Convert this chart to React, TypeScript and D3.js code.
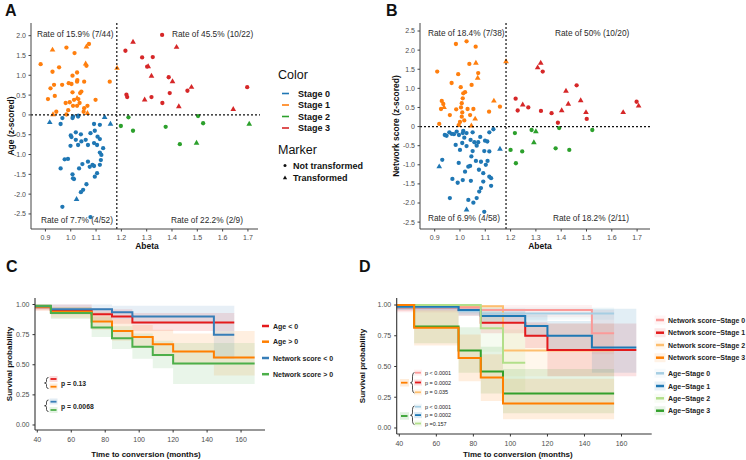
import React from "react";
import * as d3 from "d3";

const FONT = "'Liberation Sans', Arial, Helvetica, sans-serif";

// ---------- Scatter panels (A, B) ----------
const stageNames = ["Stage 0", "Stage 1", "Stage 2", "Stage 3"];
const stageColors = ["#1f77b4", "#ff7f0e", "#2ca02c", "#d62728"];
const markerNames = ["Not transformed", "Transformed"];
const abetaTicks = [0.9, 1.0, 1.1, 1.2, 1.3, 1.4, 1.5, 1.6, 1.7];
const aYTicks = [2, 1.5, 1, 0.5, 0, -0.5, -1, -1.5, -2, -2.5];
const bYTicks = [2.5, 2, 1.5, 1, 0.5, 0, -0.5, -1, -1.5, -2, -2.5];
const abetaCut = 1.182;
const aRates = ["Rate of 15.9% (7/44)", "Rate of 45.5% (10/22)", "Rate of 7.7% (4/52)", "Rate of 22.2% (2/9)"];
const bRates = ["Rate of 18.4% (7/38)", "Rate of 50% (10/20)", "Rate of 6.9% (4/58)", "Rate of 18.2% (2/11)"];

type Pt = [number, number, number]; // abeta, z-score, transformed(1)

const aStage0: Pt[] = [
  [0.917, -0.19, 1], [0.96, -0.23, 0], [0.967, -0.08, 0], [1.009, -0.04, 0], [1.007, -0.08, 0], [1.029, -0.04, 0],
  [1.134, -0.06, 1], [1.157, -0.23, 1], [1.092, -0.23, 0], [1.115, -0.25, 0], [1.0, -0.52, 0], [1.003, -0.56, 0],
  [1.02, -0.44, 0], [1.04, -0.49, 0], [0.999, -0.78, 0], [1.02, -0.63, 0], [1.029, -0.76, 0], [1.042, -0.67, 0],
  [1.059, -0.63, 0], [1.068, -0.76, 0], [1.078, -0.46, 0], [1.095, -0.4, 0], [1.106, -0.55, 0], [1.115, -0.61, 0],
  [1.092, -0.71, 0], [1.104, -0.76, 0], [1.128, -0.84, 0], [1.115, -0.95, 0], [1.121, -1.01, 0], [0.976, -1.12, 0],
  [0.989, -1.11, 0], [0.96, -1.35, 0], [1.046, -1.24, 0], [1.068, -1.18, 0], [1.086, -1.26, 0], [1.075, -1.31, 0],
  [1.092, -1.29, 0], [1.115, -1.26, 0], [1.119, -1.14, 0], [1.033, -1.35, 0], [1.007, -1.5, 0], [1.009, -1.6, 0],
  [1.013, -1.62, 0], [1.104, -1.47, 0], [1.095, -1.56, 0], [1.062, -1.75, 0], [1.049, -1.89, 0], [1.04, -1.95, 0],
  [1.023, -2.13, 1], [0.967, -2.32, 0], [1.078, -2.58, 0], [1.03, -0.02, 0],
];
const aStage1: Pt[] = [
  [0.881, 1.28, 0], [0.928, 1.64, 1], [0.983, 1.7, 0], [1.015, 1.56, 0], [1.062, 1.72, 1], [1.072, 1.79, 0],
  [1.059, 1.29, 1], [1.062, 1.24, 0], [0.928, 1.09, 0], [0.954, 1.2, 0], [1.007, 0.99, 0], [1.025, 1.07, 0],
  [1.026, 0.88, 0], [1.025, 0.84, 0], [1.053, 0.84, 0], [0.966, 0.76, 0], [0.992, 0.8, 0], [1.003, 0.78, 0],
  [0.934, 0.76, 0], [0.92, 0.67, 0], [0.937, 0.48, 0], [0.91, 0.4, 0], [1.007, 0.57, 0], [1.042, 0.59, 0],
  [1.037, 0.55, 0], [1.03, 0.4, 0], [1.025, 0.42, 1], [0.98, 0.3, 0], [0.996, 0.32, 0], [1.013, 0.38, 0],
  [1.009, 0.23, 0], [1.025, 0.23, 0], [1.053, 0.17, 0], [1.066, 0.23, 0], [1.051, 0.08, 0], [0.943, 0.08, 0],
  [0.93, 0.01, 1], [1.098, 0.38, 0], [1.154, 0.84, 0], [1.183, 1.18, 1], [1.066, 0.04, 1], [0.983, 0.01, 0],
  [0.99, 0.12, 0], [1.035, 0.3, 0],
];
const aStage2: Pt[] = [
  [1.198, -0.28, 0], [1.228, -0.06, 0], [1.246, -0.4, 0], [1.375, -0.3, 0], [1.431, -0.74, 0], [1.497, -0.71, 1],
  [1.503, -0.03, 0], [1.523, -0.21, 0], [1.705, -0.23, 1],
];
const aStage3: Pt[] = [
  [1.246, 1.84, 1], [1.361, 2.02, 0], [1.216, 1.62, 0], [1.418, 1.71, 1], [1.282, 1.45, 0], [1.324, 1.46, 0],
  [1.302, 1.22, 0], [1.306, 1.22, 1], [1.319, 0.98, 1], [1.387, 0.95, 0], [1.402, 0.84, 1], [1.22, 0.51, 0],
  [1.223, 0.45, 0], [1.292, 0.38, 1], [1.319, 0.45, 0], [1.391, 0.55, 0], [1.461, 0.61, 0], [1.477, 0.7, 1],
  [1.362, 0.3, 0], [1.427, 0.21, 1], [1.642, 0.14, 1], [1.697, 0.7, 0],
];

const bStage0: Pt[] = [
  [0.958, -0.15, 0], [0.967, -0.19, 0], [0.976, -0.2, 0], [0.987, -0.13, 0], [0.947, -0.24, 0], [0.996, -0.22, 0],
  [1.013, -0.11, 0], [1.011, -0.17, 0], [1.026, -0.17, 0], [1.05, -0.15, 0], [1.116, -0.15, 0], [1.132, -0.07, 0],
  [1.017, -0.29, 0], [1.042, -0.35, 0], [1.057, -0.41, 0], [1.072, -0.41, 0], [1.099, -0.37, 0], [1.108, -0.39, 0],
  [0.983, -0.48, 0], [1.009, -0.43, 0], [1.026, -0.51, 0], [1.066, -0.5, 0], [1.05, -0.64, 0], [1.0, -0.61, 0],
  [1.096, -0.64, 0], [1.116, -0.65, 0], [1.158, -0.59, 1], [0.93, -0.87, 0], [0.918, -1.05, 1], [1.04, -1.03, 0],
  [1.033, -1.05, 0], [1.063, -0.9, 0], [1.083, -0.92, 0], [1.109, -0.9, 0], [1.102, -1.0, 0], [1.075, -1.13, 0],
  [1.02, -1.18, 0], [1.092, -1.22, 0], [1.116, -1.31, 0], [1.123, -1.35, 0], [0.97, -1.37, 0], [1.011, -1.4, 0],
  [1.043, -1.42, 0], [1.092, -1.44, 0], [1.123, -1.55, 0], [1.083, -1.61, 0], [1.076, -1.7, 0], [1.066, -1.87, 0],
  [0.96, -1.87, 0], [1.053, -1.99, 0], [1.026, -2.18, 1], [1.096, -2.23, 0], [0.991, -1.47, 0], [1.033, -1.92, 0],
  [0.94, -0.22, 0], [1.08, -0.27, 0], [1.045, -0.78, 0], [0.995, -0.95, 0],
];
const bStage1: Pt[] = [
  [0.984, 2.16, 0], [1.026, 2.23, 0], [1.062, 2.09, 0], [0.91, 1.44, 0], [0.993, 1.37, 0], [1.037, 1.64, 0],
  [1.063, 1.66, 1], [1.072, 1.4, 0], [1.07, 1.27, 1], [0.967, 1.14, 0], [1.046, 1.09, 0], [1.003, 1.03, 0],
  [1.013, 0.87, 0], [1.011, 0.74, 0], [1.007, 0.61, 0], [0.928, 0.67, 0], [0.934, 0.59, 0], [0.937, 0.5, 1],
  [0.925, 0.46, 0], [1.004, 0.5, 0], [1.03, 0.46, 0], [1.053, 0.46, 0], [1.009, 0.37, 0], [1.007, 0.26, 0],
  [1.0, 0.12, 0], [1.017, 0.16, 0], [0.918, 0.07, 0], [1.115, 0.39, 0], [1.134, 0.67, 1], [1.158, 0.52, 0],
  [1.182, 1.7, 1], [1.02, 0.9, 0], [0.985, 0.45, 0], [1.04, 0.3, 0], [1.045, 0.02, 1], [0.995, 0.04, 0],
  [1.06, 0.2, 1], [0.96, 0.3, 0],
];
const bStage2: Pt[] = [
  [1.217, -0.17, 0], [1.2, -0.61, 0], [1.221, -0.96, 0], [1.246, -0.65, 0], [1.283, -0.09, 0], [1.3, -0.13, 1],
  [1.292, -0.42, 1], [1.378, -0.57, 0], [1.392, -0.04, 0], [1.432, -0.61, 0], [1.523, -0.09, 0],
];
const bStage3: Pt[] = [
  [1.307, 1.54, 1], [1.319, 1.66, 1], [1.327, 1.44, 0], [1.22, 0.73, 0], [1.228, 0.42, 0], [1.248, 0.57, 1],
  [1.32, 0.41, 0], [1.362, 0.35, 0], [1.387, 0.1, 0], [1.402, 0.42, 1], [1.419, 0.93, 1], [1.428, 0.59, 1],
  [1.461, 1.08, 0], [1.477, 0.68, 1], [1.498, 0.37, 1], [1.501, 0.2, 0], [1.645, 0.37, 1], [1.698, 0.65, 0],
  [1.706, 0.54, 1], [1.27, 0.5, 0],
];

// ---------- Survival panels (C, D) ----------
type Row = [number, number, number, number]; // time, survival, lower, upper
const monthTicks = [40, 60, 80, 100, 120, 140, 160];
const survTicks = [0, 0.25, 0.5, 0.75, 1];

const cAgeBelow: Row[] = [[38.7, 0.977, 0.95, 1], [48, 0.955, 0.92, 1], [72, 0.92, 0.87, 0.97], [84, 0.9, 0.84, 0.96], [96, 0.85, 0.78, 0.93], [156, 0.85, 0.78, 0.93]];
const cAgeAbove: Row[] = [[38.7, 0.98, 0.95, 1], [48, 0.94, 0.89, 0.98], [72, 0.86, 0.79, 0.94], [84, 0.78, 0.7, 0.88], [96, 0.73, 0.64, 0.83], [108, 0.67, 0.57, 0.79], [120, 0.61, 0.5, 0.76], [144, 0.56, 0.41, 0.78], [168, 0.56, 0.41, 0.78]];
const cNetBelow: Row[] = [[38.7, 0.985, 0.96, 1], [48, 0.96, 0.92, 1], [84, 0.935, 0.88, 0.99], [96, 0.9, 0.84, 0.99], [144, 0.75, 0.55, 0.99], [156, 0.75, 0.55, 0.99]];
const cNetAbove: Row[] = [[38.7, 0.99, 0.97, 1], [48, 0.93, 0.88, 0.98], [72, 0.81, 0.73, 0.9], [84, 0.72, 0.63, 0.82], [96, 0.65, 0.55, 0.76], [108, 0.58, 0.47, 0.7], [120, 0.51, 0.34, 0.68], [168, 0.51, 0.34, 0.68]];
const cLabels = ["Age < 0", "Age > 0", "Network score < 0", "Network score > 0"];
const cColors = ["#e41a1c", "#ff7f00", "#377eb8", "#4daf4a"];
const cPValues = ["p = 0.13", "p = 0.0068"];

const dNs0: Row[] = [[38.7, 0.98, 0.94, 1], [84, 0.96, 0.9, 1], [144, 0.77, 0.6, 0.96], [156, 0.77, 0.6, 0.96]];
const dNs1: Row[] = [[38.7, 0.98, 0.95, 1], [72, 0.96, 0.91, 1], [84, 0.855, 0.77, 0.94], [108, 0.75, 0.65, 0.86], [120, 0.635, 0.42, 0.85], [168, 0.635, 0.42, 0.85]];
const dNs2: Row[] = [[38.7, 0.99, 0.97, 1], [96, 0.63, 0.42, 0.85], [156, 0.63, 0.42, 0.85]];
const dNs3: Row[] = [[38.7, 1, 1, 1], [48, 0.815, 0.67, 0.95], [72, 0.57, 0.38, 0.76], [84, 0.41, 0.22, 0.6], [96, 0.2, 0.07, 0.4], [156, 0.2, 0.07, 0.4]];
const dAge0: Row[] = [[38.7, 0.98, 0.96, 1], [72, 0.95, 0.91, 0.99], [84, 0.93, 0.88, 0.98], [156, 0.93, 0.88, 0.98]];
const dAge1: Row[] = [[38.7, 0.985, 0.96, 1], [72, 0.96, 0.92, 1], [84, 0.91, 0.85, 0.97], [108, 0.83, 0.74, 0.92], [120, 0.75, 0.64, 0.87], [144, 0.655, 0.45, 0.97], [168, 0.655, 0.45, 0.97]];
const dAge2: Row[] = [[38.7, 1, 1, 1], [84, 0.81, 0.62, 0.98], [96, 0.53, 0.3, 0.8], [108, 0.53, 0.3, 0.8]];
const dAge3: Row[] = [[38.7, 1, 1, 1], [48, 0.825, 0.69, 0.96], [72, 0.63, 0.45, 0.82], [84, 0.46, 0.28, 0.66], [96, 0.28, 0.12, 0.48], [156, 0.28, 0.12, 0.48]];
const dLabels = [
  "Network score\u2212Stage 0", "Network score\u2212Stage 1", "Network score\u2212Stage 2", "Network score\u2212Stage 3",
  "Age\u2212Stage 0", "Age\u2212Stage 1", "Age\u2212Stage 2", "Age\u2212Stage 3",
];
const dColors = ["#fb9a99", "#e31a1c", "#fdbf6f", "#ff7f00", "#a6cee3", "#1f78b4", "#b2df8a", "#33a02c"];
const dPValuesNs = ["p < 0.0001", "p = 0.0002", "p = 0.035"];
const dPValuesAge = ["p < 0.0001", "p = 0.0002", "p =0.157"];

// ---------- helpers ----------
const tri = d3.symbol().type(d3.symbolTriangle).size(14)() as string;

function fmtZ(v: number) {
  return v === 0 ? "0" : v.toFixed(1);
}

function Scatter(props: {
  xDom: [number, number]; xRange: [number, number]; yDom: [number, number]; yRange: [number, number];
  yTicks: number[]; series: Pt[][]; rates: string[]; ratePos: [number, number][]; yTitle: string;
  axisEnd: number; dashEnd: number; titleX: number;
}) {
  const x = d3.scaleLinear().domain(props.xDom).range(props.xRange);
  const y = d3.scaleLinear().domain(props.yDom).range(props.yRange);
  const x0 = props.xRange[0];
  const yb = props.yRange[0];
  const yt = props.yRange[1];
  const midY = (yb + yt) / 2;
  return (
    <g fontFamily={FONT}>
      {props.series.map((s, i) =>
        s.map((p, j) =>
          p[2] ? (
            <path key={`${i}-${j}`} d={tri} transform={`translate(${x(p[0])},${y(p[1])})`} fill={stageColors[i]} />
          ) : (
            <circle key={`${i}-${j}`} cx={x(p[0])} cy={y(p[1])} r={2.15} fill={stageColors[i]} />
          )
        )
      )}
      <line x1={x0} x2={props.dashEnd} y1={y(0)} y2={y(0)} stroke="#111" strokeWidth={1.2} strokeDasharray="2,2" />
      <line x1={x(abetaCut)} x2={x(abetaCut)} y1={yt} y2={yb} stroke="#111" strokeWidth={1.2} strokeDasharray="2,2" />
      <line x1={x0} x2={x0} y1={yt} y2={yb} stroke="#444" strokeWidth={1} />
      <line x1={x0} x2={props.axisEnd} y1={yb} y2={yb} stroke="#444" strokeWidth={1} />
      {props.yTicks.map((t) => (
        <g key={t}>
          <line x1={x0 - 2.5} x2={x0} y1={y(t)} y2={y(t)} stroke="#444" />
          <text x={x0 - 5} y={y(t) + 2.4} fontSize={7} textAnchor="end" fill="#4d4d4d">{fmtZ(t)}</text>
        </g>
      ))}
      {abetaTicks.map((t) => (
        <g key={t}>
          <line x1={x(t)} x2={x(t)} y1={yb} y2={yb + 2.5} stroke="#444" />
          <text x={x(t)} y={yb + 10.5} fontSize={7} textAnchor="middle" fill="#4d4d4d">{t.toFixed(1)}</text>
        </g>
      ))}
      <text x={(props.xRange[0] + props.xRange[1]) / 2 + 5} y={yb + 20} fontSize={8.5} fontWeight="bold" textAnchor="middle" fill="#111">Abeta</text>
      <text transform={`translate(${props.titleX},${midY}) rotate(-90)`} fontSize={8.5} fontWeight="bold" textAnchor="middle" fill="#111">{props.yTitle}</text>
      {props.rates.map((r, i) => (
        <text key={r} x={props.ratePos[i][0]} y={props.ratePos[i][1]} fontSize={8.3} fill="#2a2a2a">{r}</text>
      ))}
    </g>
  );
}

function bracePath(x: number, y0: number, y1: number, w: number) {
  const mid = (y0 + y1) / 2;
  const q = (y1 - y0) * 0.18;
  return `M${x + w},${y0} Q${x},${y0} ${x},${y0 + q} L${x},${mid - q * 0.7} Q${x},${mid} ${x - w},${mid} Q${x},${mid} ${x},${mid + q * 0.7} L${x},${y1 - q} Q${x},${y1} ${x + w},${y1}`;
}

function Survival(props: {
  xDom: [number, number]; xRange: [number, number]; yDom: [number, number]; yRange: [number, number];
  curves: Row[][]; colors: string[]; bandOpacity: number; lineWidth: number; titleX: number; children?: React.ReactNode;
}) {
  const x = d3.scaleLinear().domain(props.xDom).range(props.xRange);
  const y = d3.scaleLinear().domain(props.yDom).range(props.yRange);
  const area = d3.area<Row>().x((d) => x(d[0])).y0((d) => y(d[2])).y1((d) => y(d[3])).curve(d3.curveStepAfter);
  const line = d3.line<Row>().x((d) => x(d[0])).y((d) => y(d[1])).curve(d3.curveStepAfter);
  const x0 = props.xRange[0];
  const yb = props.yRange[0];
  const yt = props.yRange[1];
  return (
    <g fontFamily={FONT}>
      {props.curves.map((c, i) => (
        <path key={`b${i}`} d={area(c) as string} fill={props.colors[i]} fillOpacity={props.bandOpacity} stroke="none" />
      ))}
      {props.curves.map((c, i) => (
        <path key={`l${i}`} d={line(c) as string} fill="none" stroke={props.colors[i]} strokeWidth={props.lineWidth} />
      ))}
      <line x1={x0} x2={x0} y1={yt} y2={yb} stroke="#333" strokeWidth={1.1} />
      <line x1={x0} x2={props.xRange[1]} y1={yb} y2={yb} stroke="#333" strokeWidth={1.1} />
      {survTicks.map((t) => (
        <g key={t}>
          <line x1={x0 - 2.5} x2={x0} y1={y(t)} y2={y(t)} stroke="#333" />
          <text x={x0 - 5.5} y={y(t) + 2.4} fontSize={7} textAnchor="end" fill="#4d4d4d">{t.toFixed(2)}</text>
        </g>
      ))}
      {monthTicks.map((t) => (
        <g key={t}>
          <line x1={x(t)} x2={x(t)} y1={yb} y2={yb + 2.5} stroke="#333" />
          <text x={x(t)} y={yb + 12} fontSize={7} textAnchor="middle" fill="#4d4d4d">{t}</text>
        </g>
      ))}
      <text x={(x(40) + x(168)) / 2} y={457} fontSize={8} fontWeight="bold" textAnchor="middle" fill="#111">Time to conversion (months)</text>
      <text transform={`translate(${props.titleX},${(yt + yb) / 2}) rotate(-90)`} fontSize={8} fontWeight="bold" textAnchor="middle" fill="#111">Survival probability</text>
      {props.children}
    </g>
  );
}

export default function App() {
  return (
    <svg width={746} height={460} style={{ position: "absolute", left: 0, top: 0, background: "#fff" }}>
      <rect width={746} height={460} fill="#fff" />
      {/* panel letters */}
      <g fontFamily={FONT} fontWeight="bold" fontSize={16} fill="#111">
        <text x={5} y={16}>A</text>
        <text x={386} y={16}>B</text>
        <text x={6} y={272}>C</text>
        <text x={359} y={272}>D</text>
      </g>

      <Scatter
        xDom={[0.843, 1.72]} xRange={[31, 253]} yDom={[-2.88, 2.32]} yRange={[229, 23]}
        yTicks={aYTicks} series={[aStage0, aStage1, aStage2, aStage3]} rates={aRates}
        ratePos={[[37, 37], [172, 37], [41, 223], [171, 223]]} yTitle="Age (z-scored)"
        axisEnd={258} dashEnd={260} titleX={14}
      />
      <Scatter
        xDom={[0.842, 1.751]} xRange={[420, 650]} yDom={[-2.68, 2.71]} yRange={[229, 23]}
        yTicks={bYTicks} series={[bStage0, bStage1, bStage2, bStage3]} rates={bRates}
        ratePos={[[428, 36], [555, 36], [428, 221], [553, 221]]} yTitle="Network score (z-scored)"
        axisEnd={650} dashEnd={650} titleX={399}
      />

      {/* scatter legend */}
      <g fontFamily={FONT} fill="#111">
        <text x={278} y={79} fontSize={12.5}>Color</text>
        {stageNames.map((s, i) => (
          <g key={s}>
            <line x1={282} x2={289} y1={93.5 + i * 11.5} y2={93.5 + i * 11.5} stroke={stageColors[i]} strokeWidth={1.6} />
            <text x={298} y={96.7 + i * 11.5} fontSize={9} fontWeight="bold">{s}</text>
          </g>
        ))}
        <text x={278} y={154} fontSize={12.5}>Marker</text>
        <circle cx={285} cy={165.5} r={1.5} fill="#111" />
        <text x={293} y={168.5} fontSize={9} fontWeight="bold">{markerNames[0]}</text>
        <path d={d3.symbol().type(d3.symbolTriangle).size(8)() as string} transform="translate(285,178)" fill="#111" />
        <text x={293} y={181} fontSize={9} fontWeight="bold">{markerNames[1]}</text>
      </g>

      {/* Panel C */}
      <Survival
        xDom={[38.65, 174.1]} xRange={[35, 265]} yDom={[-0.0415, 1.054]} yRange={[430, 298]}
        curves={[cAgeBelow, cAgeAbove, cNetBelow, cNetAbove]} colors={cColors} bandOpacity={0.12} lineWidth={2}
        titleX={12}
      >
        <g fontFamily={FONT}>
          <path d={bracePath(46.5, 377.5, 388.5, 2)} fill="none" stroke="#222" strokeWidth={0.8} />
          <rect x={49.5} y={376} width={8} height={6} fill={cColors[0]} fillOpacity={0.15} />
          <rect x={49.5} y={383.5} width={8} height={6} fill={cColors[1]} fillOpacity={0.15} />
          <line x1={50.5} x2={56.5} y1={379} y2={379} stroke={cColors[0]} strokeWidth={1.8} />
          <line x1={50.5} x2={56.5} y1={386.7} y2={386.7} stroke={cColors[1]} strokeWidth={1.8} />
          <text x={61} y={385.5} fontSize={6.8} fontWeight="bold" fill="#222">{cPValues[0]}</text>
          <path d={bracePath(46.5, 400, 411.5, 2)} fill="none" stroke="#222" strokeWidth={0.8} />
          <rect x={49.5} y={398.5} width={8} height={6} fill={cColors[2]} fillOpacity={0.15} />
          <rect x={49.5} y={407} width={8} height={6} fill={cColors[3]} fillOpacity={0.15} />
          <line x1={50.5} x2={56.5} y1={401.7} y2={401.7} stroke={cColors[2]} strokeWidth={1.8} />
          <line x1={50.5} x2={56.5} y1={410} y2={410} stroke={cColors[3]} strokeWidth={1.8} />
          <text x={61} y={408.5} fontSize={6.8} fontWeight="bold" fill="#222">{cPValues[1]}</text>
        </g>
      </Survival>
      <g fontFamily={FONT}>
        {cLabels.map((l, i) => {
          const yy = [326, 341.7, 358, 374.2][i];
          return (
            <g key={l}>
              <line x1={262} x2={269} y1={yy} y2={yy} stroke={cColors[i]} strokeWidth={2.5} />
              <text x={273} y={yy + 2.5} fontSize={7} fontWeight="bold" fill="#222">{l}</text>
            </g>
          );
        })}
      </g>

      {/* Panel D */}
      <Survival
        xDom={[38.6, 176.3]} xRange={[396.7, 651.7]} yDom={[-0.049, 1.057]} yRange={[434, 298]}
        curves={[dNs2, dNs0, dNs1, dAge0, dAge1, dAge2, dAge3, dNs3]}
        colors={[dColors[2], dColors[0], dColors[1], dColors[4], dColors[5], dColors[6], dColors[7], dColors[3]]}
        bandOpacity={0.13} lineWidth={2} titleX={365}
      >
        <g fontFamily={FONT}>
          <rect x={400} y={379} width={9} height={7.5} fill={dColors[3]} fillOpacity={0.15} />
          <line x1={401} x2={407.5} y1={382.7} y2={382.7} stroke={dColors[3]} strokeWidth={1.8} />
          <path d={bracePath(412.5, 372.5, 393, 2)} fill="none" stroke="#222" strokeWidth={0.8} />
          {dPValuesNs.map((p, i) => {
            const yy = 372.7 + i * 9.8;
            const col = [dColors[0], dColors[1], dColors[2]][i];
            return (
              <g key={`n${i}`}>
                <rect x={414} y={yy - 3} width={8} height={6} fill={col} fillOpacity={0.15} />
                <line x1={415} x2={421} y1={yy} y2={yy} stroke={col} strokeWidth={1.8} />
                <text x={425} y={yy + 2} fontSize={5.5} fill="#222">{p}</text>
              </g>
            );
          })}
          <rect x={400} y={412.2} width={9} height={7.5} fill={dColors[7]} fillOpacity={0.15} />
          <line x1={401} x2={407.5} y1={416} y2={416} stroke={dColors[7]} strokeWidth={1.8} />
          <path d={bracePath(412.5, 406, 424.5, 2)} fill="none" stroke="#222" strokeWidth={0.8} />
          {dPValuesAge.map((p, i) => {
            const yy = 406.7 + i * 8.4;
            const col = [dColors[4], dColors[5], dColors[6]][i];
            return (
              <g key={`a${i}`}>
                <rect x={414} y={yy - 3} width={8} height={6} fill={col} fillOpacity={0.15} />
                <line x1={415} x2={421} y1={yy} y2={yy} stroke={col} strokeWidth={1.8} />
                <text x={425} y={yy + 2} fontSize={5.5} fill="#222">{p}</text>
              </g>
            );
          })}
        </g>
      </Survival>
      <g fontFamily={FONT}>
        {dLabels.map((l, i) => {
          const yy = [320, 332.7, 345, 357.7, 373.3, 386, 398.3, 410.7][i];
          return (
            <g key={l}>
              <rect x={654.5} y={yy - 4.5} width={11} height={9} fill={dColors[i]} fillOpacity={0.1} />
              <line x1={656} x2={664} y1={yy} y2={yy} stroke={dColors[i]} strokeWidth={2.5} />
              <text x={668} y={yy + 2.5} fontSize={7} fontWeight="bold" fill="#222">{l}</text>
            </g>
          );
        })}
      </g>
    </svg>
  );
}
